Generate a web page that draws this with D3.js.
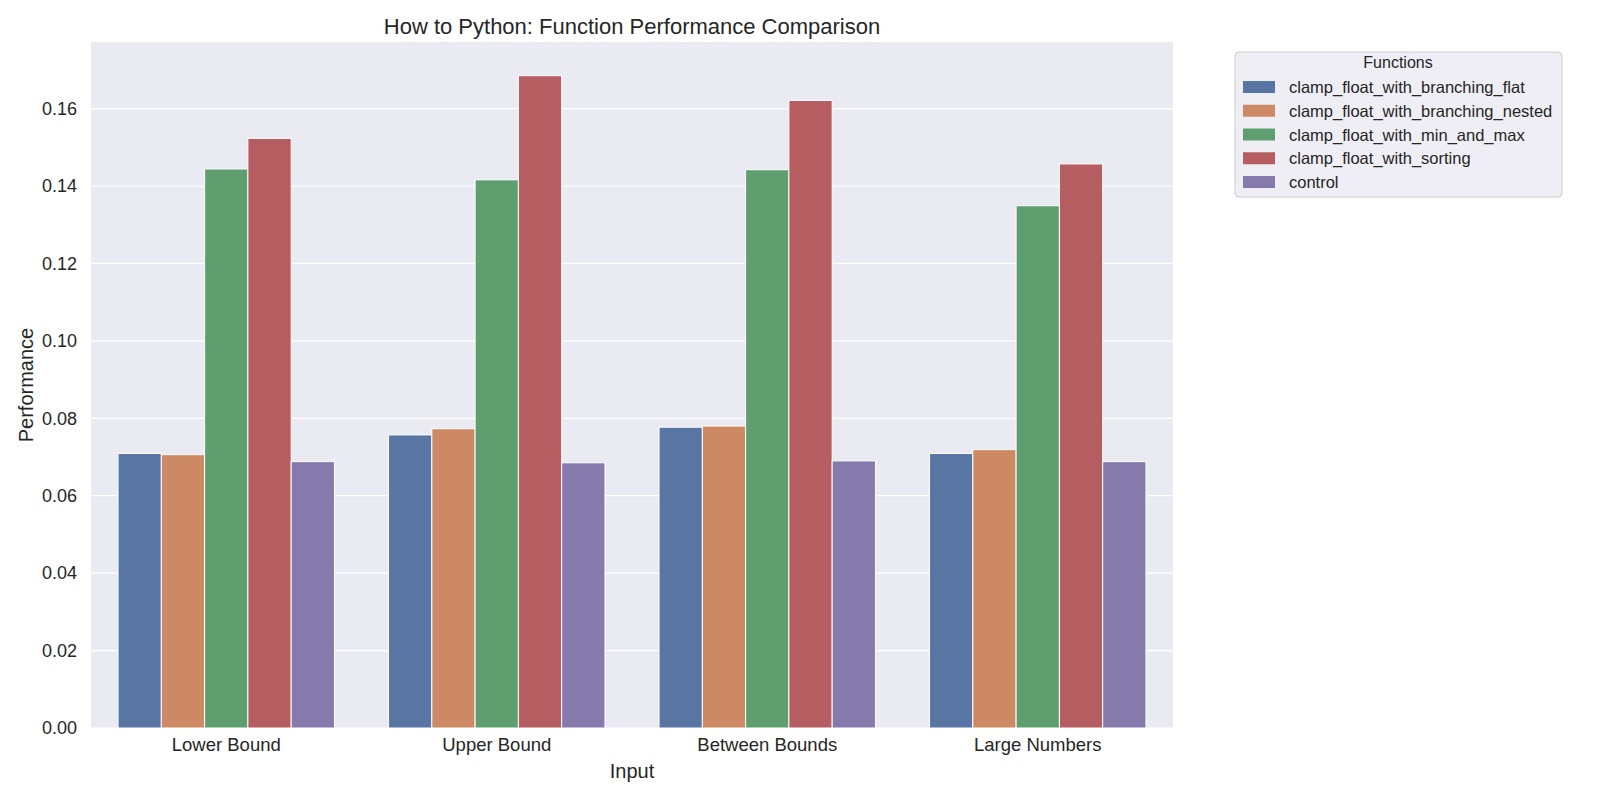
<!DOCTYPE html>
<html>
<head>
<meta charset="utf-8">
<script src="https://cdn.jsdelivr.net/npm/d3@7"></script>
<style>
  body { margin: 0; background: #fff; }
  text { font-family: "Liberation Sans", Arial, sans-serif; fill: #262626; }
</style>
</head>
<body>
<script>
var width = 1600;
var height = 800;

// data
var inputs = ["Lower Bound", "Upper Bound", "Between Bounds", "Large Numbers"];
var functions = ["clamp_float_with_branching_flat", "clamp_float_with_branching_nested",
                 "clamp_float_with_min_and_max", "clamp_float_with_sorting", "control"];
var branchingFlat   = [0.0709, 0.0757, 0.0777, 0.0709];
var branchingNested = [0.0706, 0.0773, 0.0780, 0.0719];
var minAndMax       = [0.1444, 0.1416, 0.1442, 0.1349];
var sorting         = [0.1523, 0.1685, 0.1621, 0.1457];
var control         = [0.0688, 0.0685, 0.0690, 0.0688];
var yTicks = [0, 0.02, 0.04, 0.06, 0.08, 0.10, 0.12, 0.14, 0.16];

var seriesValues = [branchingFlat, branchingNested, minAndMax, sorting, control];
var colors = ["#5975a4", "#cc8963", "#5f9e6e", "#b55d60", "#857aab"];

var plot = {left: 91, right: 1173, top: 42, bottom: 728};

var svg = d3.select("body")
            .append("svg")
            .attr("width", width)
            .attr("height", height);

var x = d3.scaleBand()
          .domain(inputs)
          .range([plot.left, plot.right])
          .padding(0);

var inner = d3.scaleBand()
              .domain(functions)
              .range([x.bandwidth() * 0.1, x.bandwidth() * 0.9])
              .padding(0);

var y = d3.scaleLinear()
          .domain([0, 0.1772])
          .range([plot.bottom, plot.top]);

// background
svg.append("rect")
   .attr("x", plot.left)
   .attr("y", plot.top)
   .attr("width", plot.right - plot.left)
   .attr("height", plot.bottom - plot.top)
   .attr("fill", "#eaeaf2");

// gridlines
svg.selectAll("line.grid")
   .data(yTicks)
   .enter()
   .append("line")
   .attr("class", "grid")
   .attr("x1", plot.left)
   .attr("x2", plot.right)
   .attr("y1", function(d) { return y(d); })
   .attr("y2", function(d) { return y(d); })
   .style("stroke", "#fff")
   .style("stroke-width", 1.2);

// bars
var bars = [];
functions.forEach(function(f, i) {
  inputs.forEach(function(c, j) {
    bars.push({fn: f, input: c, value: seriesValues[i][j], color: colors[i]});
  });
});

svg.selectAll("rect.bar")
   .data(bars)
   .enter()
   .append("rect")
   .attr("class", "bar")
   .attr("x", function(d) { return x(d.input) + inner(d.fn); })
   .attr("y", function(d) { return y(d.value); })
   .attr("width", inner.bandwidth())
   .attr("height", function(d) { return y(0) - y(d.value); })
   .attr("fill", function(d) { return d.color; })
   .style("stroke", "#fff")
   .style("stroke-width", 1);

// axes
var yAxis = svg.append("g")
               .attr("transform", "translate(" + plot.left + ",0)")
               .call(d3.axisLeft(y).tickValues(yTicks).tickFormat(d3.format(".2f")).tickSize(0).tickPadding(14));
yAxis.select(".domain").remove();
yAxis.selectAll("text")
     .style("font-size", "18px")
     .style("font-family", "Liberation Sans, Arial, sans-serif")
     .attr("fill", "#262626");

var xAxis = svg.append("g")
               .attr("transform", "translate(0," + plot.bottom + ")")
               .call(d3.axisBottom(x).tickSize(0).tickPadding(10));
xAxis.select(".domain").remove();
xAxis.selectAll("text")
     .style("font-size", "18.5px")
     .style("font-family", "Liberation Sans, Arial, sans-serif")
     .attr("fill", "#262626");

// labels
svg.append("text")
   .attr("x", (plot.left + plot.right) / 2)
   .attr("y", 34)
   .attr("text-anchor", "middle")
   .style("font-size", "22px")
   .text("How to Python: Function Performance Comparison");

svg.append("text")
   .attr("x", (plot.left + plot.right) / 2)
   .attr("y", 778)
   .attr("text-anchor", "middle")
   .style("font-size", "20px")
   .text("Input");

svg.append("text")
   .attr("transform", "translate(33," + ((plot.top + plot.bottom) / 2) + ") rotate(-90)")
   .attr("text-anchor", "middle")
   .style("font-size", "20px")
   .text("Performance");

// legend
var legend = svg.append("g");
legend.append("rect")
      .attr("x", 1235)
      .attr("y", 52)
      .attr("width", 327)
      .attr("height", 145)
      .attr("rx", 4)
      .attr("fill", "#eeeef4")
      .style("stroke", "#cccccc")
      .style("stroke-width", 1);

legend.append("text")
      .attr("x", 1398)
      .attr("y", 68)
      .attr("text-anchor", "middle")
      .style("font-size", "16px")
      .text("Functions");

var rowY = d3.scalePoint()
             .domain(functions)
             .range([87, 182]);

legend.selectAll("rect.key")
      .data(functions)
      .enter()
      .append("rect")
      .attr("class", "key")
      .attr("x", 1243)
      .attr("y", function(d) { return rowY(d) - 6; })
      .attr("width", 32)
      .attr("height", 12)
      .attr("fill", function(d, i) { return colors[i]; });

legend.selectAll("text.key")
      .data(functions)
      .enter()
      .append("text")
      .attr("class", "key")
      .attr("x", 1289)
      .attr("y", function(d) { return rowY(d) + 6; })
      .style("font-size", "16.5px")
      .text(function(d) { return d; });
</script>
</body>
</html>
